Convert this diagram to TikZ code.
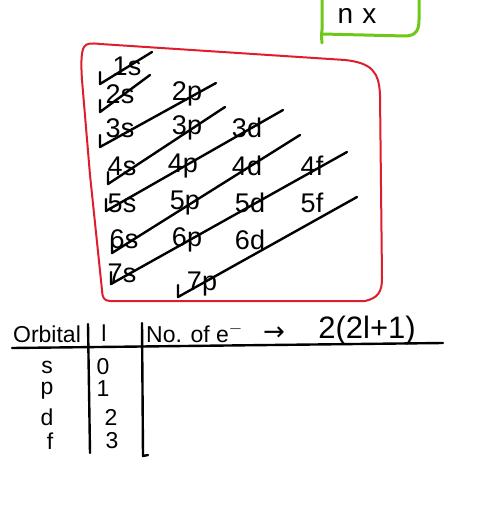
\documentclass[tikz,border=0pt]{standalone}
\usepackage{fontspec}
\setmainfont{Liberation Sans}
\newfontfamily\symfont{DejaVu Sans}
\begin{document}
\begin{tikzpicture}[x=1pt,y=-1pt,
  ink/.style={line width=2.4pt,line cap=round,line join=round,black},
  orb/.style={font=\fontsize{27}{27}\selectfont,inner sep=0pt},
  tab/.style={font=\fontsize{23}{23}\selectfont,inner sep=0pt},
  redbox/.style={draw={rgb,255:red,222;green,30;blue,45},line width=2pt,line join=round},
  greenbox/.style={draw={rgb,255:red,110;green,200;blue,25},line width=3pt,line cap=round,line join=round}]
\useasboundingbox (0,0) rectangle (480,518);
\fill[white] (0,0) rectangle (480,518);

% green box (cut off at the top)
\draw[greenbox] (322,-5) -- (322,30) .. controls (321,38) and (322,40) .. (322,43);
\draw[greenbox] (322,34) -- (405,36) .. controls (416,36) and (419,30) .. (419,20) -- (419,-5);
\node[font=\fontsize{28}{28}\selectfont,anchor=base,inner sep=0pt] (nx) at (357,24) {n\,\,x};

% red box
\draw[redbox] (84,47) .. controls (86,43) and (92,43) .. (100,44)
  -- (345,60) .. controls (372,63) and (379,72) .. (380,95)
  -- (382,278) .. controls (382,292) and (378,298) .. (365,301)
  -- (110,301) .. controls (104,301) and (102,297) .. (102,290)
  -- (90,175) -- (82,80) .. controls (81,65) and (81,52) .. (84,47);

% orbital labels
\node[orb] (o1s) at (127,66) {1s};
\node[orb] (o2s) at (120,94) {2s};
\node[orb] (o2p) at (187,94) {2p};
\node[orb] (o3s) at (120,128) {3s};
\node[orb] (o3p) at (187,128) {3p};
\node[orb] (o3d) at (247,128) {3d};
\node[orb] (o4s) at (122,166) {4s};
\node[orb] (o4p) at (183,166) {4p};
\node[orb] (o4d) at (247,166) {4d};
\node[orb] (o4f) at (312,166) {4f};
\node[orb] (o5s) at (122,203) {5s};
\node[orb] (o5p) at (185,203) {5p};
\node[orb] (o5d) at (250,203) {5d};
\node[orb] (o5f) at (312,203) {5f};
\node[orb] (o6s) at (124,239) {6s};
\node[orb] (o6p) at (187,240) {6p};
\node[orb] (o6d) at (250,240) {6d};
\node[orb] (o7s) at (122,273) {7s};
\node[orb] (o7p) at (202,284) {7p};

% diagonal arrows
\coordinate (a1) at (152,52);  \coordinate (b1) at (100,84);
\coordinate (a2) at (150,75);  \coordinate (b2) at (100,112);
\coordinate (a3) at (216,83);  \coordinate (b3) at (100,147);
\coordinate (a4) at (225,107); \coordinate (b4) at (108,184);
\coordinate (a5) at (283,110); \coordinate (b5) at (106,211);
\coordinate (a6) at (300,135); \coordinate (b6) at (112,253);
\coordinate (a7) at (347,152); \coordinate (b7) at (111,284);
\coordinate (a8) at (357,197); \coordinate (b8) at (178,297);
\foreach \i in {1,...,8} {
  \draw[ink] (a\i) -- (b\i) -- ++(0,-12);
}

% table
\coordinate (h1) at (12,348); \coordinate (h2) at (443,343);
\coordinate (v1t) at (88,324); \coordinate (v1b) at (90,453);
\coordinate (v2t) at (142,323); \coordinate (v2b) at (143,456);
\coordinate (v2f) at (148,455);
\draw[ink] (h1) -- (h2);
\draw[ink] (v1t) -- (v1b);
\draw[ink] (v2t) -- (v2b) -- (v2f);

\node[tab] (hOrb) at (47,334) {Orbital};
\node[tab] (hL) at (104,333) {l};
\node[tab,anchor=west] (hNo) at (146,333) {No. of e$^{-}$};
\node[font=\fontsize{26}{26}\selectfont\symfont,inner sep=0pt] (harr) at (274,334) {→};
\node[font=\fontsize{31}{31}\selectfont,inner sep=0pt] (hF) at (367,330) {2(2l+1)};

\node[tab] (rs) at (47,367) {s};
\node[tab] (rp) at (47,391) {p};
\node[tab] (rd) at (47,417) {d};
\node[tab] (rf) at (50,441) {f};
\node[tab] (r0) at (103,367) {0};
\node[tab] (r1) at (103,389) {1};
\node[tab] (r2) at (111,417) {2};
\node[tab] (r3) at (112,441) {3};
\end{tikzpicture}
\end{document}
